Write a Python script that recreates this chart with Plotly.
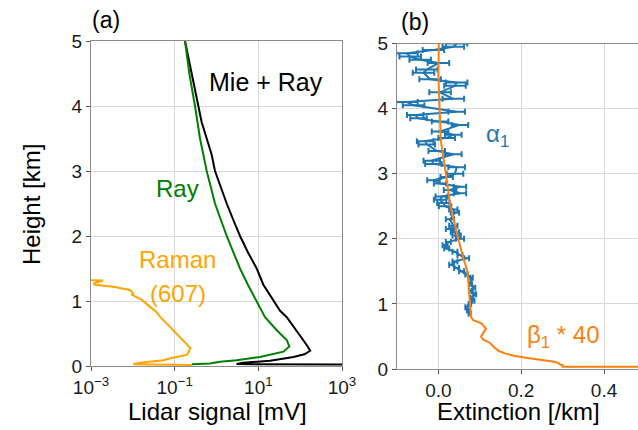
import plotly.graph_objects as go

# ---------------- Panel (a): lidar signals (log10 of mV) ----------------
mie_h = [5.0, 4.75, 4.5, 4.25, 4.0, 3.75, 3.5, 3.25, 3.0, 2.75, 2.5, 2.25, 2.0, 1.75, 1.5, 1.25, 1.0,
         0.85, 0.75, 0.68, 0.6, 0.5, 0.4, 0.32, 0.235, 0.18, 0.14, 0.08, 0.05, 0.03, 0.02]
mie_log = [-0.753, -0.674, -0.594, -0.52, -0.434, -0.354, -0.234, -0.115, -0.036, 0.10, 0.244, 0.40,
           0.562, 0.75, 0.961, 1.12, 1.36, 1.52, 1.68, 1.76, 1.84, 1.96, 2.08, 2.16, 2.24, 2.10, 1.84,
           1.28, 0.64, 0.48, 3.5]

ray_h = [5.0, 4.5, 4.0, 3.5, 3.0, 2.5, 2.0, 1.5, 1.25, 1.0, 0.75, 0.55, 0.4, 0.3, 0.22, 0.14, 0.09,
         0.066, 0.04, 0.026]
ray_log = [-0.753, -0.65, -0.514, -0.394, -0.234, -0.036, 0.244, 0.562, 0.75, 0.961, 1.16, 1.44,
           1.68, 1.74, 1.60, 1.04, 0.48, 0.08, -0.16, -0.59]

raman_h = [1.32, 1.315, 1.27, 1.25, 1.22, 1.17, 1.12, 1.10, 1.07, 1.02, 0.91, 0.84, 0.76, 0.55,
           0.37, 0.28, 0.22, 0.17, 0.12, 0.09, 0.05, 0.026, 0.015]
raman_log = [-3.05, -2.71, -2.94, -2.90, -2.47, -2.07, -1.99, -2.02, -1.95, -1.79, -1.59, -1.45,
             -1.35, -1.03, -0.75, -0.63, -0.66, -0.71, -1.10, -1.27, -1.83, -1.99, -0.59]

# ---------------- Panel (b): extinction ----------------
beta_h = [5.0, 4.5, 4.0, 3.5, 3.0, 2.5, 2.0, 1.75, 1.5, 1.0, 0.8, 0.75, 0.7, 0.62, 0.55, 0.5, 0.45,
          0.40, 0.33, 0.28, 0.24, 0.20, 0.17, 0.14, 0.11, 0.09, 0.065, 0.06, 0.045, 0.035, 0.035]
beta_x = [0.001, 0.0, 0.003, 0.006, 0.018, 0.029, 0.048, 0.058, 0.070, 0.076, 0.079, 0.084, 0.104,
          0.115, 0.108, 0.103, 0.108, 0.125, 0.135, 0.145, 0.160, 0.185, 0.215, 0.250, 0.280,
          0.290, 0.295, 0.300, 0.300, 0.300, 0.50]

alpha_h = [0.85, 0.9, 0.95, 1.0, 1.05, 1.1, 1.15, 1.2, 1.25, 1.3, 1.4, 1.45, 1.5, 1.55, 1.6, 1.65,
           1.7, 1.75, 1.8, 1.85, 1.9, 1.95, 2.0, 2.05, 2.1, 2.15, 2.2, 2.3, 2.4, 2.45, 2.5, 2.55,
           2.6, 2.65, 2.7, 2.75, 2.8, 2.85, 2.9, 2.95, 3.0, 3.1, 3.15, 3.2, 3.3, 3.35, 3.45, 3.5,
           3.55, 3.6, 3.65, 3.75, 3.8, 3.85, 3.9, 3.95, 4.05, 4.1, 4.15, 4.25, 4.35, 4.4, 4.45,
           4.55, 4.6, 4.7, 4.75, 4.8, 4.85, 4.9, 4.95, 5.0]
alpha_x = [0.076, 0.072, 0.068, 0.076, 0.084, 0.080, 0.088, 0.078, 0.086, 0.078, 0.080, 0.068,
           0.056, 0.044, 0.032, 0.040, 0.068, 0.052, 0.040, 0.020, 0.016, 0.024, 0.052, 0.044,
           0.040, 0.028, 0.036, 0.028, 0.040, 0.036, 0.016, 0.012, 0.004, 0.008, 0.052, 0.028,
           0.052, 0.004, -0.012, 0.020, 0.040, 0.044, -0.012, -0.016, 0.036, -0.004, -0.028,
           -0.032, 0.020, 0.036, 0.004, 0.052, 0.004, -0.048, -0.056, 0.044, -0.060, -0.076,
           0.036, 0.004, 0.040, 0.044, -0.020, -0.036, -0.028, 0.000, -0.044, -0.068, -0.076,
           -0.012, 0.036, 0.044]
alpha_err = [0.003] * 12 + [0.006] * 10 + [0.010] * 8 + [0.015] * 10 + [0.020] * 16 + [0.026] * 16

log_ticks = [-3, -1, 1, 3]
log_ticktext = ["10<sup>\u22123</sup>", "10<sup>\u22121</sup>", "10<sup>1</sup>", "10<sup>3</sup>"]
height_ticks = [0, 1, 2, 3, 4, 5]
ext_ticks = [0.0, 0.2, 0.4]
ext_ticktext = ["0.0", "0.2", "0.4"]

FONT = "Liberation Sans, Arial, sans-serif"
W, H = 638, 430
BLACK = "#000000"
GREEN = "#008000"
ORANGE = "#FFA500"
C_BLUE = "#1f77b4"
C_ORANGE = "#ff7f0e"

fig = go.Figure()

fig.add_trace(go.Scatter(x=[10 ** v for v in mie_log], y=mie_h, mode="lines",
                         line=dict(color=BLACK, width=2), xaxis="x", yaxis="y"))
fig.add_trace(go.Scatter(x=[10 ** v for v in ray_log], y=ray_h, mode="lines",
                         line=dict(color=GREEN, width=2), xaxis="x", yaxis="y"))
fig.add_trace(go.Scatter(x=[10 ** v for v in raman_log], y=raman_h, mode="lines",
                         line=dict(color=ORANGE, width=2), xaxis="x", yaxis="y"))

fig.add_trace(go.Scatter(x=alpha_x, y=alpha_h, mode="lines",
                         line=dict(color=C_BLUE, width=2),
                         error_x=dict(type="data", array=alpha_err, color=C_BLUE,
                                      thickness=2, width=3),
                         xaxis="x2", yaxis="y2"))
fig.add_trace(go.Scatter(x=beta_x, y=beta_h, mode="lines",
                         line=dict(color=C_ORANGE, width=2), xaxis="x2", yaxis="y2"))

def px2x(p):
    return p / W

def py2y(p):
    return 1 - p / H

axis_common = dict(showgrid=True, gridcolor="#d9d9d9", gridwidth=1, showline=True,
                   linecolor="#8c8c8c", linewidth=1, mirror=True, ticks="outside",
                   ticklen=4, tickcolor="#555555", zeroline=False, automargin=False,
                   tickfont=dict(family=FONT, size=19, color="#1a1a1a"))

fig.update_layout(
    width=W, height=H, margin=dict(l=0, r=0, t=0, b=0, pad=0, autoexpand=False),
    paper_bgcolor="white", plot_bgcolor="white", showlegend=False,
    xaxis=dict(type="log", range=[-3, 3], domain=[px2x(91), px2x(342)], anchor="y",
               tickvals=[10 ** v for v in log_ticks], ticktext=log_ticktext, **axis_common),
    yaxis=dict(range=[0, 5], domain=[py2y(366), py2y(41)], anchor="x",
               tickvals=height_ticks, **axis_common),
    xaxis2=dict(range=[-0.1, 0.482], domain=[px2x(397), 1.0], anchor="y2",
                tickvals=ext_ticks, ticktext=ext_ticktext, **axis_common),
    yaxis2=dict(range=[0, 5], domain=[py2y(369), py2y(43.5)], anchor="x2",
                tickvals=height_ticks, **axis_common),
)

def ann(text, x, y, size, color="#000000", angle=0):
    fig.add_annotation(text=text, x=px2x(x), y=py2y(y), xref="paper", yref="paper",
                       showarrow=False, textangle=angle, xanchor="center", yanchor="middle",
                       font=dict(family=FONT, size=size, color=color))

ann("(a)", 106, 20, 23)
ann("(b)", 415, 22, 23)
ann("Mie + Ray", 266, 82, 25)
ann("Ray", 177, 188, 24, GREEN)
ann("Raman", 177, 259, 24, ORANGE)
ann("(607)", 178, 293, 24, ORANGE)
ann("\u03b1<sub>1</sub>", 497, 136, 24, C_BLUE)
ann("\u03b2<sub>1</sub> * 40", 563, 336, 24, C_ORANGE)
ann("Height [km]", 32, 205, 24, angle=-90)
ann("Lidar signal [mV]", 217, 411, 24)
ann("Extinction [/km]", 518, 411, 24)

fig.write_html("out.html", config={"displayModeBar": False, "staticPlot": True},
               post_script="document.body.style.margin='0';document.body.style.overflow='hidden';")
